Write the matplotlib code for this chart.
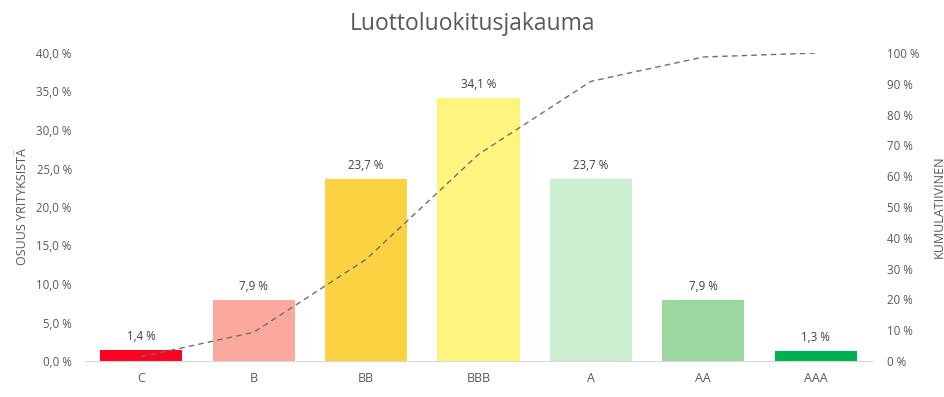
import matplotlib.pyplot as plt
from matplotlib.ticker import FuncFormatter

plt.rcParams['font.family'] = ['Open Sans', 'DejaVu Sans']

categories = ["C", "B", "BB", "BBB", "A", "AA", "AAA"]
shares = [1.4, 7.9, 23.7, 34.1, 23.7, 7.9, 1.3]
cumulative = [1.4, 9.3, 33.0, 67.1, 90.8, 98.7, 100.0]
bar_colors = ["#FF0020", "#FBA99C", "#FBD342", "#FFF57E", "#CDEFD1", "#9BD7A0", "#00B050"]

TEXT = "#595959"

fig = plt.figure(figsize=(9.44, 3.97), dpi=100)
ax = fig.add_axes([85 / 944, 36 / 397, 787 / 944, 308 / 397])
ax2 = ax.twinx()

x = range(len(categories))
bars = ax.bar(x, shares, width=0.73, color=bar_colors, zorder=2)
for b, v in zip(bars, shares):
    ax.text(b.get_x() + b.get_width() / 2, v + 0.9, f"{v:.1f} %".replace(".", ","),
            ha="center", va="bottom", fontsize=8.3, color="#404040")

ax.set_xlim(-0.5, len(categories) - 0.5)
ax.set_ylim(0, 40)
ax.set_yticks(range(0, 41, 5))
ax.yaxis.set_major_formatter(FuncFormatter(lambda v, p: f"{v:.1f} %".replace(".", ",")))
ax.set_xticks(list(x))
ax.set_xticklabels(categories)
ax.set_ylabel("OSUUS YRITYKSISTÄ", fontsize=9, color=TEXT, labelpad=5)

ax2.plot(list(x), cumulative, linestyle=(0, (4, 3)), color="#6f6f6f", linewidth=1.0, zorder=3)
ax2.set_ylim(0, 100)
ax2.set_yticks(range(0, 101, 10))
ax2.yaxis.set_major_formatter(FuncFormatter(lambda v, p: f"{v:.0f} %"))
ax2.set_ylabel("KUMULATIIVINEN", fontsize=9, color=TEXT, labelpad=9)

for a in (ax, ax2):
    for s in a.spines.values():
        s.set_visible(False)
    a.tick_params(length=0, labelsize=8.3, labelcolor=TEXT)
ax.spines["bottom"].set_visible(True)
ax.spines["bottom"].set_color("#d9d9d9")
ax.tick_params(axis="x", labelsize=9, pad=8)
ax.tick_params(axis="y", pad=9.5)
ax2.tick_params(axis="y", pad=11)

fig.suptitle("Luottoluokitusjakauma", fontsize=16.5, color=TEXT, y=0.97)

fig.savefig("out.png", dpi=100)
